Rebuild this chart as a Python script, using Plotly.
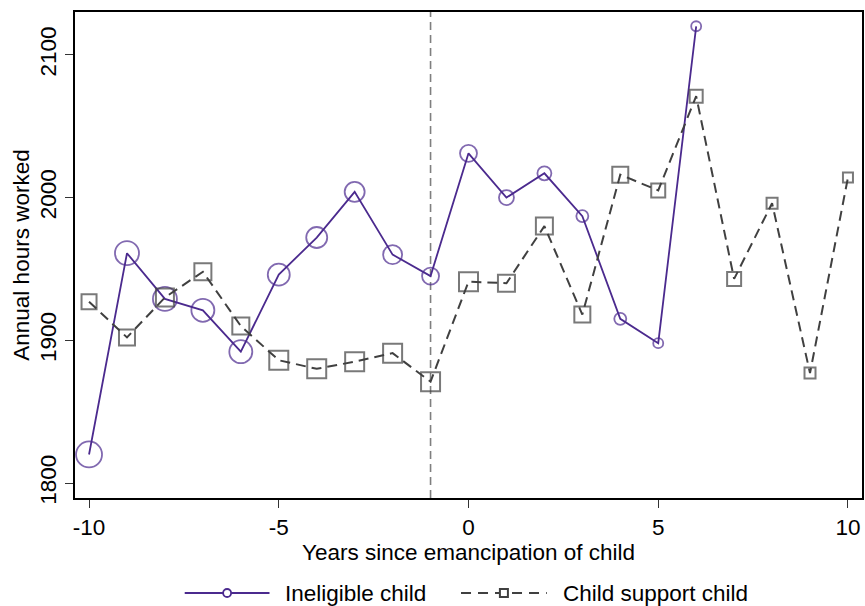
import plotly.graph_objects as go

# Event-time axis (years relative to the child's emancipation)
ineligible_years = list(range(-10, 7))
support_years = list(range(-10, 11))

# Mean annual hours worked by group
ineligible_hours = [1820, 1961, 1929, 1921, 1892, 1946, 1972, 2004, 1960,
                    1945, 2031, 2000, 2017, 1987, 1915, 1898, 2120]
support_hours = [1927, 1902, 1930, 1948, 1910, 1886, 1880, 1885, 1891, 1871,
                 1941, 1940, 1980, 1918, 2016, 2005, 2071, 1943, 1996, 1877, 2014]

# Marker sizes (scaled by number of observations in each cell)
ineligible_marker = [26, 24, 24, 23, 23, 22, 21, 20, 19, 17, 17, 15, 14, 12, 12, 10, 10]
support_marker = [15, 16, 18, 17, 17, 19, 19, 19, 19, 19, 19, 17, 17, 16, 16, 14, 13, 14, 11, 11, 10]

series_names = ["Ineligible child", "Child support child"]
event_line_year = -1
x_ticks = [-10, -5, 0, 5, 10]
y_ticks = [1800, 1900, 2000, 2100]

PURPLE = "#4b2a8e"
GRAY = "#404040"
FONT = "Liberation Sans, Arial, sans-serif"
FS = 22.5

W, H = 865, 606
M_L, M_R, M_T, M_B = 75, 1, 12, 108
PLOT_W = W - M_L - M_R
PLOT_H = H - M_T - M_B


def px(xp):
    """Horizontal pixel position -> paper coordinate."""
    return (xp - M_L) / PLOT_W


def py(yp):
    """Vertical pixel position (from top) -> paper coordinate."""
    return (H - M_B - yp) / PLOT_H


fig = go.Figure()

fig.add_trace(go.Scatter(
    x=ineligible_years, y=ineligible_hours, name=series_names[0],
    mode="lines+markers",
    line=dict(color=PURPLE, width=1.8),
    marker=dict(symbol="circle-open", size=ineligible_marker, color=PURPLE,
                line=dict(width=1.8, color=PURPLE)),
))
fig.add_trace(go.Scatter(
    x=support_years, y=support_hours, name=series_names[1],
    mode="lines+markers",
    line=dict(color=GRAY, width=2, dash="10px,6px"),
    marker=dict(symbol="square-open", size=support_marker, color=GRAY,
                line=dict(width=2, color=GRAY)),
))

fig.add_shape(type="line", x0=event_line_year, x1=event_line_year, y0=0, y1=1,
              xref="x", yref="paper",
              line=dict(color="#7f7f7f", width=1.6, dash="8px,5px"), layer="below")

# Legend row below the x-axis title: long key lines with a small marker
LEG_Y = py(593)
legend_keys = [
    dict(x0=185, x1=270, color=PURPLE, width=1.8, dash="solid", symbol="circle", text_x=284),
    dict(x0=462, x1=548, color=GRAY, width=2, dash="10px,7px", symbol="square", text_x=562),
]
for key, name in zip(legend_keys, series_names):
    fig.add_shape(type="line", xref="paper", yref="paper",
                  x0=px(key["x0"]), x1=px(key["x1"]), y0=LEG_Y, y1=LEG_Y,
                  line=dict(color=key["color"], width=key["width"], dash=key["dash"]))
    xc = px((key["x0"] + key["x1"]) / 2)
    fig.add_shape(type="circle" if key["symbol"] == "circle" else "rect",
                  xref="paper", yref="paper",
                  xsizemode="pixel", ysizemode="pixel",
                  xanchor=xc, yanchor=LEG_Y,
                  x0=-4, x1=4, y0=-4, y1=4,
                  fillcolor="white",
                  line=dict(color=key["color"], width=key["width"]))
    fig.add_annotation(text=name, xref="paper", yref="paper",
                       x=px(key["text_x"]), y=LEG_Y, xanchor="left", yanchor="middle",
                       showarrow=False,
                       font=dict(family=FONT, size=FS, color="black"))

axis_common = dict(
    showline=True, linecolor="black", linewidth=1.5, mirror=True,
    ticks="outside", ticklen=8, tickwidth=1.3, tickcolor="#333333",
    showgrid=False, zeroline=False,
    tickfont=dict(family=FONT, size=FS, color="black"),
)

fig.update_xaxes(
    range=[-10.37, 10.37], tickvals=x_ticks,
    ticktext=[str(v) for v in x_ticks],
    title=dict(text="Years since emancipation of child",
               font=dict(family=FONT, size=FS, color="black"), standoff=0),
    **axis_common,
)
fig.update_yaxes(
    range=[1789.5, 2130], tickvals=y_ticks, tickangle=-90,
    title=dict(text="Annual hours worked",
               font=dict(family=FONT, size=FS, color="black"), standoff=0),
    **axis_common,
)

fig.update_layout(
    width=W, height=H,
    margin=dict(l=M_L, r=M_R, t=M_T, b=M_B),
    paper_bgcolor="white", plot_bgcolor="white",
    font=dict(family=FONT, size=FS, color="black"),
    showlegend=False,
)

fig.write_html("out.html")
